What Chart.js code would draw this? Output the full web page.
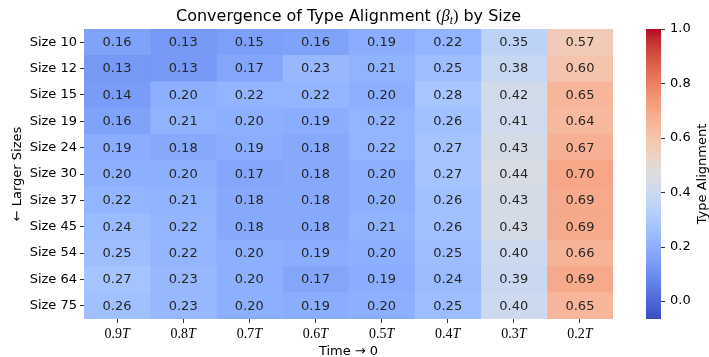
<!DOCTYPE html>
<html>
<head>
<meta charset="utf-8">
<script src="https://cdn.jsdelivr.net/npm/chart.js@4.4.1/dist/chart.umd.min.js"></script>
<style>
  html, body { margin: 0; padding: 0; background: #ffffff; }
  #wrap { width: 709px; height: 357px; position: relative; }
</style>
</head>
<body>
<div id="wrap"><canvas id="c" width="709" height="357"></canvas></div>
<script>
// ---- data ----
const sizes = ['Size 10', 'Size 12', 'Size 15', 'Size 19', 'Size 24', 'Size 30', 'Size 37', 'Size 45', 'Size 54', 'Size 64', 'Size 75'];
const timeNumbers = ['0.9', '0.8', '0.7', '0.6', '0.5', '0.4', '0.3', '0.2'];
const timeSymbol = 'T';
const alignment = [
  [0.16, 0.13, 0.15, 0.16, 0.19, 0.22, 0.35, 0.57],
  [0.13, 0.13, 0.17, 0.23, 0.21, 0.25, 0.38, 0.60],
  [0.14, 0.20, 0.22, 0.22, 0.20, 0.28, 0.42, 0.65],
  [0.16, 0.21, 0.20, 0.19, 0.22, 0.26, 0.41, 0.64],
  [0.19, 0.18, 0.19, 0.18, 0.22, 0.27, 0.43, 0.67],
  [0.20, 0.20, 0.17, 0.18, 0.20, 0.27, 0.44, 0.70],
  [0.22, 0.21, 0.18, 0.18, 0.20, 0.26, 0.43, 0.69],
  [0.24, 0.22, 0.18, 0.18, 0.21, 0.26, 0.43, 0.69],
  [0.25, 0.22, 0.20, 0.19, 0.20, 0.25, 0.40, 0.66],
  [0.27, 0.23, 0.20, 0.17, 0.19, 0.24, 0.39, 0.69],
  [0.26, 0.23, 0.20, 0.19, 0.20, 0.25, 0.40, 0.65]
];
const colorMin = -0.066;
const colorMax = 1.0;
const colorbarTicks = [0.0, 0.2, 0.4, 0.6, 0.8, 1.0];

// ---- coolwarm colormap ----
const CW = [
  [59,76,192],[68,90,204],[77,104,215],[87,117,225],[98,130,234],[108,142,241],[119,154,247],[130,165,251],
  [141,176,254],[152,185,255],[163,194,255],[174,201,253],[184,208,249],[194,213,244],[204,217,238],[213,219,230],
  [221,221,221],[229,216,209],[236,211,197],[241,204,185],[245,196,173],[247,187,160],[247,177,148],[247,166,135],
  [244,154,123],[241,141,111],[236,127,99],[229,112,88],[222,96,77],[213,80,66],[203,62,56],[192,40,47],[180,4,38]
];
function coolwarm(t) {
  t = Math.max(0, Math.min(1, t));
  const p = t * (CW.length - 1);
  const i = Math.min(CW.length - 2, Math.floor(p));
  const f = p - i;
  const a = CW[i], b = CW[i + 1];
  const c = [0, 1, 2].map(k => Math.round(a[k] + (b[k] - a[k]) * f));
  return 'rgb(' + c.join(',') + ')';
}
function norm(v) { return (v - colorMin) / (colorMax - colorMin); }

const datasets = timeNumbers.map((lbl, c) => ({
  label: lbl + timeSymbol,
  data: sizes.map(() => [c, c + 1]),
  backgroundColor: alignment.map(row => coolwarm(norm(row[c]))),
  borderWidth: 0,
  grouped: false,
  barPercentage: 1.0,
  categoryPercentage: 1.0
}));

const SANS = '"DejaVu Sans"';
const SERIF = '"Liberation Serif"';

const decor = {
  id: 'decor',
  afterDatasetsDraw(chart) {
    const ctx = chart.ctx;
    ctx.save();
    ctx.font = '13px ' + SANS;
    ctx.fillStyle = '#262626';
    ctx.textAlign = 'center';
    ctx.textBaseline = 'middle';
    chart.data.datasets.forEach((ds, c) => {
      const meta = chart.getDatasetMeta(c);
      meta.data.forEach((el, r) => {
        const cx = (el.x + el.base) / 2;
        ctx.fillText(alignment[r][c].toFixed(2), cx, el.y + 0.5);
      });
    });
    ctx.restore();
  },
  afterDraw(chart) {
    const ctx = chart.ctx;
    const ca = chart.chartArea;
    const xs = chart.scales.x;
    const cb = chart.scales.y2;
    const midX = (ca.left + ca.right) / 2;
    ctx.save();
    ctx.fillStyle = '#000';
    ctx.textBaseline = 'alphabetic';

    // title with math part
    const parts = [
      { t: 'Convergence of Type Alignment ', f: '16px ' + SANS, dy: 0 },
      { t: '(', f: '16.5px ' + SERIF, dy: 0 },
      { t: 'β', f: 'italic 16.5px ' + SERIF, dy: 0 },
      { t: 't', f: 'italic 11.5px ' + SERIF, dy: 3 },
      { t: ')', f: '16.5px ' + SERIF, dy: 0 },
      { t: ' by Size', f: '16px ' + SANS, dy: 0 }
    ];
    let total = 0;
    parts.forEach(p => { ctx.font = p.f; p.w = ctx.measureText(p.t).width; total += p.w; });
    let x = midX - total / 2;
    ctx.textAlign = 'left';
    parts.forEach(p => { ctx.font = p.f; ctx.fillText(p.t, x, 21 + p.dy); x += p.w; });

    // x tick labels (math style)
    timeNumbers.forEach((num, i) => {
      const px = xs.getPixelForValue(i + 0.5);
      ctx.font = '14px ' + SERIF;
      const w1 = ctx.measureText(num).width;
      ctx.font = 'italic 14px ' + SERIF;
      const w2 = ctx.measureText(timeSymbol).width;
      const sx = px - (w1 + w2) / 2;
      ctx.font = '14px ' + SERIF;
      ctx.fillText(num, sx, 338);
      ctx.font = 'italic 14px ' + SERIF;
      ctx.fillText(timeSymbol, sx + w1, 338);
    });

    // x axis title
    ctx.font = '13px ' + SANS;
    ctx.textAlign = 'center';
    ctx.fillText('Time → 0', midX, 355);

    // y axis title
    ctx.save();
    ctx.translate(21, (ca.top + ca.bottom) / 2);
    ctx.rotate(-Math.PI / 2);
    ctx.fillText('← Larger Sizes', 0, 0);
    ctx.restore();

    // colorbar
    const cbL = 646, cbR = 661;
    const top = cb.getPixelForValue(colorMax);
    const bot = cb.getPixelForValue(colorMin);
    const g = ctx.createLinearGradient(0, bot, 0, top);
    for (let i = 0; i < CW.length; i++) {
      g.addColorStop(i / (CW.length - 1), 'rgb(' + CW[i].join(',') + ')');
    }
    ctx.fillStyle = g;
    ctx.fillRect(cbL, top, cbR - cbL, bot - top);
    ctx.strokeStyle = '#333';
    ctx.lineWidth = 1;
    colorbarTicks.forEach(v => {
      const py = Math.round(cb.getPixelForValue(v)) + 0.5;
      ctx.beginPath();
      ctx.moveTo(cbR, py);
      ctx.lineTo(cbR + 4, py);
      ctx.stroke();
    });
    ctx.fillStyle = '#000';
    ctx.save();
    ctx.translate(706, (top + bot) / 2);
    ctx.rotate(-Math.PI / 2);
    ctx.textAlign = 'center';
    ctx.font = '13px ' + SANS;
    ctx.fillText('Type Alignment', 0, 0);
    ctx.restore();
    ctx.restore();
  }
};

function zeroPad(s) { s.paddingTop = 0; s.paddingBottom = 0; }

new Chart(document.getElementById('c'), {
  type: 'bar',
  data: { labels: sizes, datasets: datasets },
  options: {
    indexAxis: 'y',
    responsive: false,
    animation: false,
    devicePixelRatio: 1,
    layout: { padding: { top: 29, left: 0, right: 0, bottom: 0 } },
    plugins: { legend: { display: false }, title: { display: false }, tooltip: { enabled: false } },
    scales: {
      x: {
        type: 'linear',
        min: 0,
        max: timeNumbers.length,
        offset: false,
        position: 'bottom',
        grid: { drawOnChartArea: false, drawTicks: true, tickLength: 4, color: '#333' },
        border: { display: false },
        ticks: { autoSkip: false, callback: () => '', font: { size: 13, family: 'DejaVu Sans' } },
        afterBuildTicks: s => { s.ticks = timeNumbers.map((_, i) => ({ value: i + 0.5 })); },
        afterFit: s => { s.height = 38; s.paddingLeft = 0; s.paddingRight = 0; }
      },
      y: {
        type: 'category',
        position: 'left',
        grid: { drawOnChartArea: false, drawTicks: true, tickLength: 4, color: '#333', offset: false },
        border: { display: false },
        ticks: { padding: 3, color: '#000', font: { size: 13, family: 'DejaVu Sans' }, autoSkip: false },
        afterFit: s => { s.width = 84; zeroPad(s); }
      },
      y2: {
        type: 'linear',
        position: 'right',
        offset: false,
        min: colorMin,
        max: colorMax,
        grid: { display: false, drawTicks: false, offset: false },
        border: { display: false },
        ticks: { padding: 57, color: '#000', font: { size: 13, family: 'DejaVu Sans' }, callback: v => v.toFixed(1) },
        afterBuildTicks: s => { s.ticks = colorbarTicks.map(v => ({ value: v })); },
        afterFit: s => { s.width = 96; zeroPad(s); }
      }
    }
  },
  plugins: [decor]
});
</script>
</body>
</html>
